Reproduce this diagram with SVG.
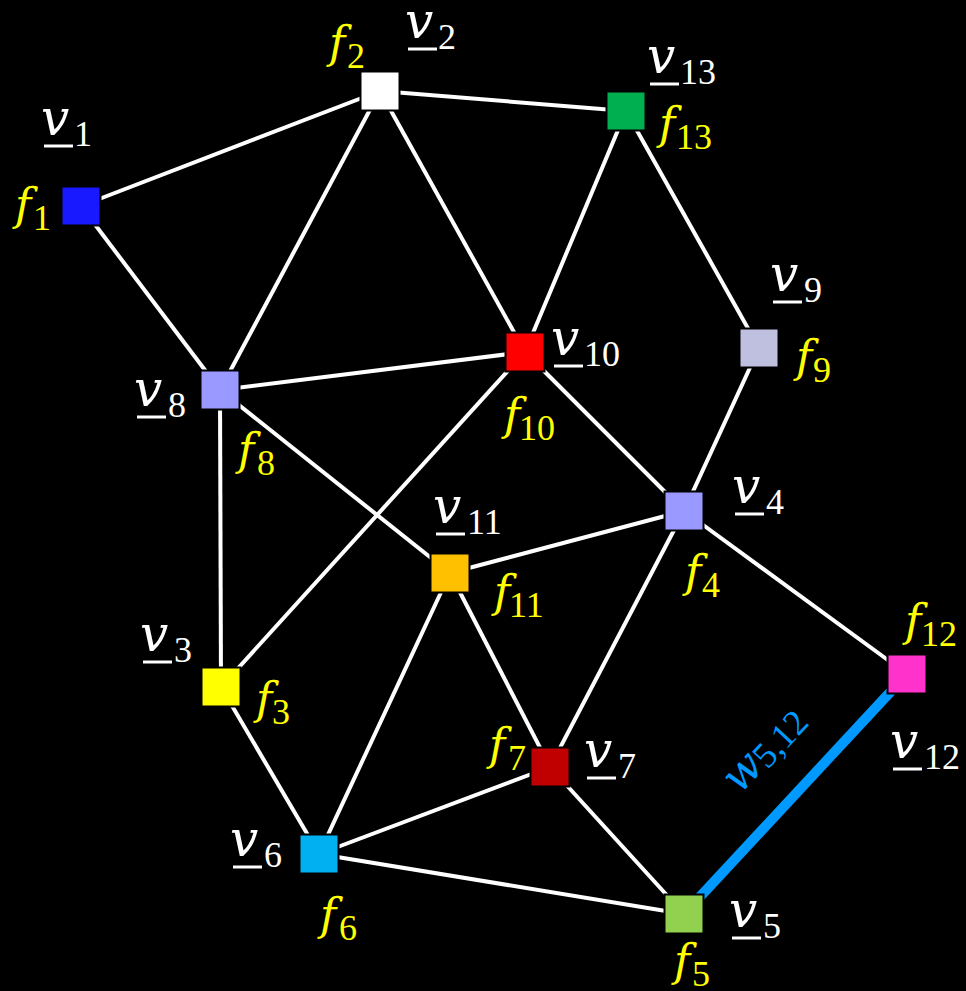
<svg xmlns="http://www.w3.org/2000/svg" width="966" height="991" viewBox="0 0 966 991">
<style>
.e{stroke:#fff;stroke-width:4;fill:none}
.w{stroke:#0099ff;stroke-width:10;fill:none}
.n{stroke:#000;stroke-width:2}
.m{font-family:"DejaVu Serif",serif;font-style:italic;font-size:50px}
.fm{font-family:"DejaVu Serif",serif;font-style:italic;font-size:44px}
.s{font-family:"Liberation Serif",serif;font-size:36px}
.vl{fill:#fff}
.fl{fill:#ffff00}
.ul{stroke:#fff;stroke-width:3}
.wl{fill:#0099ff}
</style>
<rect width="966" height="991" fill="#000"/>
<g id="connectors">
<line class="e" x1="81" y1="206" x2="380" y2="91"/>
<line class="e" x1="81" y1="206" x2="220" y2="390"/>
<line class="e" x1="380" y1="91" x2="626" y2="111"/>
<line class="e" x1="380" y1="91" x2="220" y2="390"/>
<line class="e" x1="380" y1="91" x2="525" y2="352"/>
<line class="e" x1="626" y1="111" x2="525" y2="352"/>
<line class="e" x1="626" y1="111" x2="759" y2="348"/>
<line class="e" x1="220" y1="390" x2="525" y2="352"/>
<line class="e" x1="220" y1="390" x2="450" y2="573"/>
<line class="e" x1="220" y1="390" x2="221" y2="687"/>
<line class="e" x1="525" y1="352" x2="221" y2="687"/>
<line class="e" x1="525" y1="352" x2="684" y2="511"/>
<line class="e" x1="759" y1="348" x2="684" y2="511"/>
<line class="e" x1="450" y1="573" x2="684" y2="511"/>
<line class="e" x1="450" y1="573" x2="319" y2="854"/>
<line class="e" x1="450" y1="573" x2="550" y2="767"/>
<line class="e" x1="684" y1="511" x2="550" y2="767"/>
<line class="e" x1="684" y1="511" x2="907" y2="674"/>
<line class="e" x1="221" y1="687" x2="319" y2="854"/>
<line class="e" x1="319" y1="854" x2="550" y2="767"/>
<line class="e" x1="319" y1="854" x2="684" y2="914"/>
<line class="e" x1="550" y1="767" x2="684" y2="914"/>
<line class="w" x1="684" y1="914" x2="907" y2="674"/>
</g>
<g id="v1"><rect class="n" x="61.5" y="186.5" width="39" height="39" fill="#1919ff"/>
<line class="ul" x1="44" y1="146" x2="73" y2="146"/><text class="vl"><tspan class="m" x="41" y="135">v</tspan><tspan class="s" x="74" y="146">1</tspan></text>
<text class="fl"><tspan class="fm" x="15" y="220">f</tspan><tspan class="s" x="33" y="230">1</tspan></text></g>
<g id="v2"><rect class="n" x="360.5" y="71.5" width="39" height="39" fill="#ffffff"/>
<line class="ul" x1="408" y1="49" x2="437" y2="49"/><text class="vl"><tspan class="m" x="405" y="38">v</tspan><tspan class="s" x="438" y="49">2</tspan></text>
<text class="fl"><tspan class="fm" x="329" y="58">f</tspan><tspan class="s" x="347" y="68">2</tspan></text></g>
<g id="v13"><rect class="n" x="606.5" y="91.5" width="39" height="39" fill="#00b050"/>
<line class="ul" x1="650" y1="84" x2="679" y2="84"/><text class="vl"><tspan class="m" x="647" y="73">v</tspan><tspan class="s" x="680" y="84">13</tspan></text>
<text class="fl"><tspan class="fm" x="659" y="139">f</tspan><tspan class="s" x="676" y="149">13</tspan></text></g>
<g id="v10"><rect class="n" x="505.5" y="332.5" width="39" height="39" fill="#ff0000"/>
<line class="ul" x1="554" y1="366" x2="583" y2="366"/><text class="vl"><tspan class="m" x="551" y="355">v</tspan><tspan class="s" x="584" y="366">10</tspan></text>
<text class="fl"><tspan class="fm" x="504" y="430">f</tspan><tspan class="s" x="519" y="440">10</tspan></text></g>
<g id="v9"><rect class="n" x="739.5" y="328.5" width="39" height="39" fill="#bfbfdf"/>
<line class="ul" x1="773" y1="302" x2="802" y2="302"/><text class="vl"><tspan class="m" x="770" y="291">v</tspan><tspan class="s" x="804" y="302">9</tspan></text>
<text class="fl"><tspan class="fm" x="796" y="372">f</tspan><tspan class="s" x="813" y="382">9</tspan></text></g>
<g id="v8"><rect class="n" x="200.5" y="370.5" width="39" height="39" fill="#9999ff"/>
<line class="ul" x1="137" y1="417" x2="166" y2="417"/><text class="vl"><tspan class="m" x="134" y="406">v</tspan><tspan class="s" x="168" y="417">8</tspan></text>
<text class="fl"><tspan class="fm" x="238" y="465">f</tspan><tspan class="s" x="257" y="475">8</tspan></text></g>
<g id="v11"><rect class="n" x="430.5" y="553.5" width="39" height="39" fill="#ffc000"/>
<line class="ul" x1="436" y1="534" x2="465" y2="534"/><text class="vl"><tspan class="m" x="433" y="523">v</tspan><tspan class="s" x="467" y="534">11</tspan></text>
<text class="fl"><tspan class="fm" x="494" y="607">f</tspan><tspan class="s" x="509" y="617">11</tspan></text></g>
<g id="v4"><rect class="n" x="664.5" y="491.5" width="39" height="39" fill="#9999ff"/>
<line class="ul" x1="735" y1="514" x2="764" y2="514"/><text class="vl"><tspan class="m" x="732" y="503">v</tspan><tspan class="s" x="766" y="514">4</tspan></text>
<text class="fl"><tspan class="fm" x="685" y="587">f</tspan><tspan class="s" x="702" y="597">4</tspan></text></g>
<g id="v12"><rect class="n" x="887.5" y="654.5" width="39" height="39" fill="#ff33cc"/>
<line class="ul" x1="893" y1="769" x2="922" y2="769"/><text class="vl"><tspan class="m" x="890" y="758">v</tspan><tspan class="s" x="924" y="769">12</tspan></text>
<text class="fl"><tspan class="fm" x="905" y="636">f</tspan><tspan class="s" x="921" y="646">12</tspan></text></g>
<g id="v3"><rect class="n" x="201.5" y="667.5" width="39" height="39" fill="#ffff00"/>
<line class="ul" x1="143" y1="662" x2="172" y2="662"/><text class="vl"><tspan class="m" x="140" y="651">v</tspan><tspan class="s" x="174" y="662">3</tspan></text>
<text class="fl"><tspan class="fm" x="256" y="714">f</tspan><tspan class="s" x="272" y="724">3</tspan></text></g>
<g id="v6"><rect class="n" x="299.5" y="834.5" width="39" height="39" fill="#00b0f0"/>
<line class="ul" x1="233" y1="867" x2="262" y2="867"/><text class="vl"><tspan class="m" x="230" y="856">v</tspan><tspan class="s" x="264" y="867">6</tspan></text>
<text class="fl"><tspan class="fm" x="320" y="930">f</tspan><tspan class="s" x="339" y="940">6</tspan></text></g>
<g id="v7"><rect class="n" x="530.5" y="747.5" width="39" height="39" fill="#c00000"/>
<line class="ul" x1="587" y1="778" x2="616" y2="778"/><text class="vl"><tspan class="m" x="584" y="767">v</tspan><tspan class="s" x="618" y="778">7</tspan></text>
<text class="fl"><tspan class="fm" x="489" y="760">f</tspan><tspan class="s" x="508" y="770">7</tspan></text></g>
<g id="v5"><rect class="n" x="664.5" y="894.5" width="39" height="39" fill="#92d050"/>
<line class="ul" x1="732" y1="938" x2="761" y2="938"/><text class="vl"><tspan class="m" x="729" y="927">v</tspan><tspan class="s" x="763" y="938">5</tspan></text>
<text class="fl"><tspan class="fm" x="674" y="976">f</tspan><tspan class="s" x="692" y="986">5</tspan></text></g>
<g id="w512"><text class="wl" transform="translate(740,795) rotate(-47)"><tspan class="fm" font-size="44" x="0" y="0">w</tspan><tspan class="s" x="37" y="3">5,12</tspan></text></g>
</svg>
